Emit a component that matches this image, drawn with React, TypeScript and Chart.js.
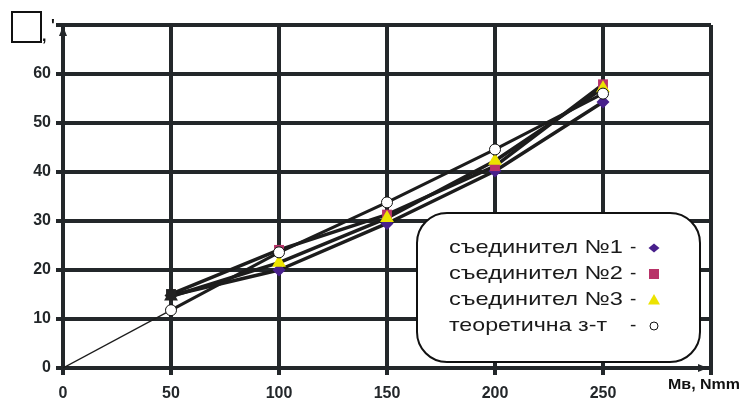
import React, { useEffect, useRef } from "react";
import { Chart, registerables } from "chart.js";

Chart.register(...registerables);

// Bending moment, N·mm
const momentX = [50, 100, 150, 200, 250];
const theoryX = [0, 50, 100, 150, 200, 250];

// Measured angle for each connector and the theoretical law
const joint1 = [14.8, 20.0, 29.5, 40.2, 54.3];
const joint2 = [15.1, 24.1, 31.3, 41.2, 57.9];
const joint3 = [14.6, 21.5, 30.6, 42.3, 57.1];
const theory = [0, 11.8, 23.6, 33.8, 44.6, 56.0];

const seriesLabels = ["съединител №1", "съединител №2", "съединител №3", "теоретична з-т"];
const xTickLabels = ["0", "50", "100", "150", "200", "250"];
const yTickLabels = ["0", "10", "20", "30", "40", "50", "60"];
const xTitle = "Мв, Nmm";

const INK = "#23272a";
const LINE = "#1c1c1c";
const FONT = '"Liberation Sans", Arial, sans-serif';

const markerStyles = [
  { style: "rectRot", color: "#48208c", stroke: "#48208c", r: 6.5 },
  { style: "rect", color: "#b83268", stroke: "#b83268", r: 7 },
  { style: "triangle", color: "#ece300", stroke: "#ece300", r: 8 },
  { style: "circle", color: "#ffffff", stroke: "#111111", r: 5.5 },
];

const toPoints = (xs: number[], ys: number[]) => xs.map((x, i) => ({ x, y: ys[i] }));

function drawMarker(ctx: CanvasRenderingContext2D, style: string, x: number, y: number, r: number, fill: string, stroke: string) {
  ctx.save();
  ctx.fillStyle = fill;
  ctx.strokeStyle = stroke;
  ctx.lineWidth = 1;
  ctx.beginPath();
  if (style === "rectRot") {
    ctx.moveTo(x - r, y);
    ctx.lineTo(x, y - r * 0.8);
    ctx.lineTo(x + r, y);
    ctx.lineTo(x, y + r * 0.8);
    ctx.closePath();
  } else if (style === "rect") {
    ctx.rect(x - r, y - r, 2 * r, 2 * r);
  } else if (style === "triangle") {
    ctx.moveTo(x, y - r);
    ctx.lineTo(x + r, y + r * 0.75);
    ctx.lineTo(x - r, y + r * 0.75);
    ctx.closePath();
  } else {
    ctx.arc(x, y, r, 0, Math.PI * 2);
  }
  ctx.fill();
  if (style === "circle") ctx.stroke();
  ctx.restore();
}

// Arrowheads on both axes
const axisArrows = {
  id: "axisArrows",
  afterDatasetsDraw(chart: any) {
    const { ctx, chartArea } = chart;
    const { left, right, top, bottom } = chartArea;
    ctx.save();
    ctx.fillStyle = INK;
    ctx.beginPath();
    ctx.moveTo(left, top + 1);
    ctx.lineTo(left - 4, top + 11);
    ctx.lineTo(left + 4, top + 11);
    ctx.closePath();
    ctx.fill();
    ctx.beginPath();
    ctx.moveTo(right - 3, bottom);
    ctx.lineTo(right - 13, bottom - 4);
    ctx.lineTo(right - 13, bottom + 4);
    ctx.closePath();
    ctx.fill();
    ctx.restore();
  },
};

// Y-axis header in the corner and the x-axis title
const axisTitles = {
  id: "axisTitles",
  afterDraw(chart: any) {
    const { ctx, chartArea } = chart;
    ctx.save();
    ctx.strokeStyle = "#111";
    ctx.lineWidth = 2;
    ctx.strokeRect(12, 12, 29, 30);
    ctx.fillStyle = "#111";
    ctx.font = `bold 16px ${FONT}`;
    ctx.textBaseline = "alphabetic";
    ctx.fillText(",", 42, 41);
    ctx.fillText("'", 51, 31);
    ctx.font = `bold 15px ${FONT}`;
    const w = ctx.measureText(xTitle).width;
    ctx.translate(668, chartArea.bottom + 21);
    ctx.scale(72 / w, 1);
    ctx.fillText(xTitle, 0, 0);
    ctx.restore();
  },
};

// Rounded legend box with markers after the labels
const boxLegend = {
  id: "boxLegend",
  afterDraw(chart: any) {
    const { ctx } = chart;
    const bx = 417, by = 213, bw = 283, bh = 149, rad = 30;
    ctx.save();
    ctx.beginPath();
    ctx.roundRect(bx, by, bw, bh, rad);
    ctx.fillStyle = "#ffffff";
    ctx.fill();
    ctx.lineWidth = 2;
    ctx.strokeStyle = "#111";
    ctx.stroke();
    ctx.fillStyle = "#1a1a1a";
    ctx.font = `19px ${FONT}`;
    ctx.textBaseline = "middle";
    const legendR = [5.5, 5, 6, 4];
    seriesLabels.forEach((label, i) => {
      const y = 248 + i * 26;
      const w = ctx.measureText(label).width;
      const target = i === 3 ? 158 : 174;
      ctx.save();
      ctx.translate(449, y);
      ctx.scale(target / w, 1);
      ctx.fillText(label, 0, 0);
      ctx.restore();
      ctx.fillText("-", 630, y);
      const m = markerStyles[i];
      drawMarker(ctx, m.style, 654, y, legendR[i], m.color, m.stroke);
    });
    ctx.restore();
  },
};

const measured = [joint1, joint2, joint3];

export default function App() {
  const ref = useRef<HTMLCanvasElement | null>(null);

  useEffect(() => {
    if (!ref.current) return;

    const lineSets: any[] = measured.map((vals, i) => ({
      label: seriesLabels[i] + " line",
      data: toPoints(momentX, vals),
      borderColor: LINE,
      borderWidth: 3.5,
      borderCapStyle: "round",
      borderJoinStyle: "round",
      pointRadius: 0,
      tension: 0,
      order: 10 + i,
    }));
    lineSets.push({
      label: seriesLabels[3] + " line",
      data: toPoints(theoryX, theory),
      borderColor: LINE,
      borderWidth: 3,
      pointRadius: 0,
      tension: 0,
      order: 14,
      segment: {
        borderWidth: (c: any) => (c.p0DataIndex === 0 ? 1.3 : 3),
      },
    });

    const pointSets: any[] = [...measured, theory].map((vals, i) => {
      const m = markerStyles[i];
      const xs = i === 3 ? theoryX : momentX;
      return {
        label: seriesLabels[i],
        data: i === 3 ? toPoints(xs, vals).slice(1) : toPoints(xs, vals),
        showLine: false,
        pointStyle: m.style,
        pointRadius: m.r,
        pointBackgroundColor: i === 3 ? m.color : vals.map((_, k) => (k === 0 ? "#222" : m.color)),
        pointBorderColor: i === 3 ? m.stroke : vals.map((_, k) => (k === 0 ? "#222" : m.stroke)),
        pointBorderWidth: i === 3 ? 1 : 0,
        order: 3 - i,
      };
    });

    const chart = new Chart(ref.current, {
      type: "line",
      data: { datasets: [...lineSets, ...pointSets] },
      options: {
        animation: false,
        responsive: false,
        devicePixelRatio: 1,
        layout: { padding: { left: 8, right: 30, top: 25, bottom: 0 } },
        plugins: { legend: { display: false }, tooltip: { enabled: false } },
        scales: {
          x: {
            type: "linear",
            min: 0,
            max: 300,
            afterFit: (s: any) => { s.height = 32; },
            ticks: {
              stepSize: 50,
              color: INK,
              padding: 9,
              maxRotation: 0,
              font: { family: FONT, size: 16, weight: "bold" },
              callback: (v: any) => {
                const t = String(v);
                return xTickLabels.includes(t) ? t : "";
              },
            },
            grid: { color: INK, lineWidth: 4, tickLength: 7, drawTicks: true },
            border: { color: INK, width: 4 },
          },
          y: {
            type: "linear",
            min: 0,
            max: 70,
            afterFit: (s: any) => { s.width = 55; },
            ticks: {
              stepSize: 10,
              color: INK,
              padding: 5,
              font: { family: FONT, size: 16, weight: "bold" },
              callback: (v: any) => {
                const t = String(v);
                return yTickLabels.includes(t) ? t : "";
              },
            },
            grid: { color: INK, lineWidth: 4, tickLength: 7, drawTicks: true },
            border: { color: INK, width: 4 },
          },
        },
      },
      plugins: [axisArrows, axisTitles, boxLegend],
    });

    return () => chart.destroy();
  }, []);

  return (
    <div style={{ position: "absolute", left: 0, top: 0, width: 741, height: 400, background: "#fff" }}>
      <canvas ref={ref} width={741} height={400} style={{ width: 741, height: 400, display: "block" }} />
    </div>
  );
}
